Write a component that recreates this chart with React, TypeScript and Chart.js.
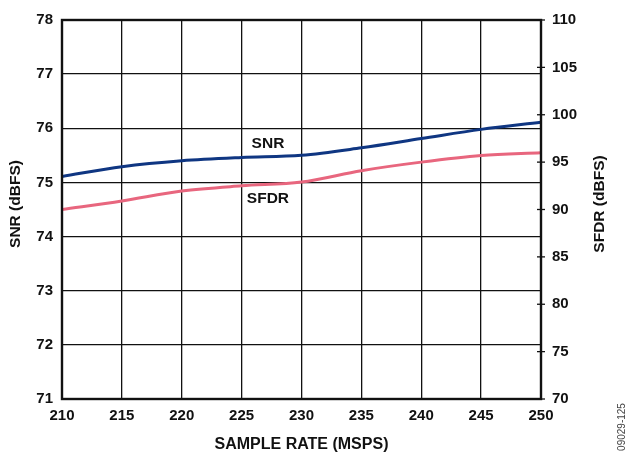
import React, { useEffect, useRef } from "react";
import { Chart, registerables } from "chart.js";

Chart.register(...registerables);

const sampleRates = [210, 215, 220, 225, 230, 235, 240, 245, 250];
const snrValues = [75.11, 75.29, 75.4, 75.46, 75.5, 75.64, 75.81, 75.98, 76.11];
const sfdrValues = [90.0, 90.9, 91.95, 92.5, 92.9, 94.1, 95.0, 95.7, 96.0];
const snrTicks = [71, 72, 73, 74, 75, 76, 77, 78];
const sfdrTicks = [70, 75, 80, 85, 90, 95, 100, 105, 110];
const xTicks = [210, 215, 220, 225, 230, 235, 240, 245, 250];

const FONT = "'Liberation Sans', Arial, Helvetica, sans-serif";
const NAVY = "#0f3682";
const PINK = "#e8667e";

const overlay = {
  id: "overlay",
  afterDraw(chart: any) {
    const { ctx, chartArea } = chart;
    const { left, right, top, bottom } = chartArea;
    const yR = chart.scales.yR;
    ctx.save();
    // frame
    ctx.strokeStyle = "#111";
    ctx.lineWidth = 2.4;
    ctx.strokeRect(left, top, right - left, bottom - top);
    // right ticks crossing the axis
    ctx.lineWidth = 1.3;
    sfdrTicks.forEach((v) => {
      const y = yR.getPixelForValue(v);
      ctx.beginPath();
      ctx.moveTo(right - 4, y);
      ctx.lineTo(right + 4, y);
      ctx.stroke();
    });
    ctx.fillStyle = "#111";
    ctx.font = `bold 15.5px ${FONT}`;
    ctx.textAlign = "center";
    ctx.textBaseline = "middle";
    // series labels
    const xs = chart.scales.x;
    const yL = chart.scales.yL;
    ctx.fillText("SNR", xs.getPixelForValue(227.2), yL.getPixelForValue(75.72));
    ctx.fillText("SFDR", xs.getPixelForValue(227.2), yL.getPixelForValue(74.69));
    // axis titles
    const midY = 204;
    ctx.font = `bold 16px ${FONT}`;
    ctx.fillText("SAMPLE RATE (MSPS)", (left + right) / 2, 445);
    ctx.font = `bold 15.5px ${FONT}`;
    ctx.save();
    ctx.translate(16, midY);
    ctx.rotate(-Math.PI / 2);
    ctx.fillText("SNR (dBFS)", 0, 0);
    ctx.restore();
    ctx.save();
    ctx.translate(600, midY);
    ctx.rotate(-Math.PI / 2);
    ctx.fillText("SFDR (dBFS)", 0, 0);
    ctx.restore();
    // figure number
    ctx.save();
    ctx.translate(622, 427);
    ctx.rotate(-Math.PI / 2);
    ctx.font = `10px ${FONT}`;
    ctx.fillStyle = "#444";
    ctx.fillText("09029-125", 0, 0);
    ctx.restore();
    ctx.restore();
  },
};

export default function App() {
  const canvasRef = useRef<HTMLCanvasElement | null>(null);

  useEffect(() => {
    if (!canvasRef.current) return;
    const tickFont = { family: FONT, size: 15, weight: "bold" as const };
    const chart = new Chart(canvasRef.current, {
      type: "line",
      data: {
        datasets: [
          {
            label: "SNR",
            data: sampleRates.map((x, i) => ({ x, y: snrValues[i] })),
            borderColor: NAVY,
            borderWidth: 3,
            pointRadius: 0,
            cubicInterpolationMode: "monotone",
            yAxisID: "yL",
          },
          {
            label: "SFDR",
            data: sampleRates.map((x, i) => ({ x, y: sfdrValues[i] })),
            borderColor: PINK,
            borderWidth: 3,
            pointRadius: 0,
            cubicInterpolationMode: "monotone",
            yAxisID: "yR",
          },
        ],
      },
      options: {
        animation: false,
        responsive: true,
        maintainAspectRatio: false,
        layout: { padding: { top: 16, left: 0, right: 0, bottom: 0 } },
        plugins: { legend: { display: false }, tooltip: { enabled: false } },
        scales: {
          x: {
            type: "linear",
            min: 210,
            max: 250,
            afterBuildTicks: (s: any) => {
              s.ticks = xTicks.map((v) => ({ value: v }));
            },
            ticks: { font: tickFont, color: "#111", padding: 8, autoSkip: false, maxRotation: 0 },
            grid: { color: "#111", lineWidth: 1.3, drawTicks: false },
            border: { display: false },
            afterFit: (s: any) => {
              s.height = 58;
            },
          },
          yL: {
            type: "linear",
            position: "left",
            min: 71,
            max: 78,
            afterBuildTicks: (s: any) => {
              s.ticks = snrTicks.map((v) => ({ value: v }));
            },
            ticks: { font: tickFont, color: "#111", padding: 9 },
            grid: { color: "#111", lineWidth: 1.3, drawTicks: false },
            border: { display: false },
            afterFit: (s: any) => {
              s.width = 62;
            },
          },
          yR: {
            type: "linear",
            position: "right",
            min: 70,
            max: 110,
            afterBuildTicks: (s: any) => {
              s.ticks = sfdrTicks.map((v) => ({ value: v }));
            },
            ticks: { font: tickFont, color: "#111", padding: 11 },
            grid: { display: false, drawOnChartArea: false, drawTicks: false },
            border: { display: false },
            afterFit: (s: any) => {
              s.width = 87;
            },
          },
        },
      } as any,
      plugins: [overlay],
    });
    return () => chart.destroy();
  }, []);

  return (
    <div style={{ position: "absolute", left: 0, top: 0, width: 628, height: 457, background: "#fff" }}>
      <canvas ref={canvasRef} />
    </div>
  );
}
